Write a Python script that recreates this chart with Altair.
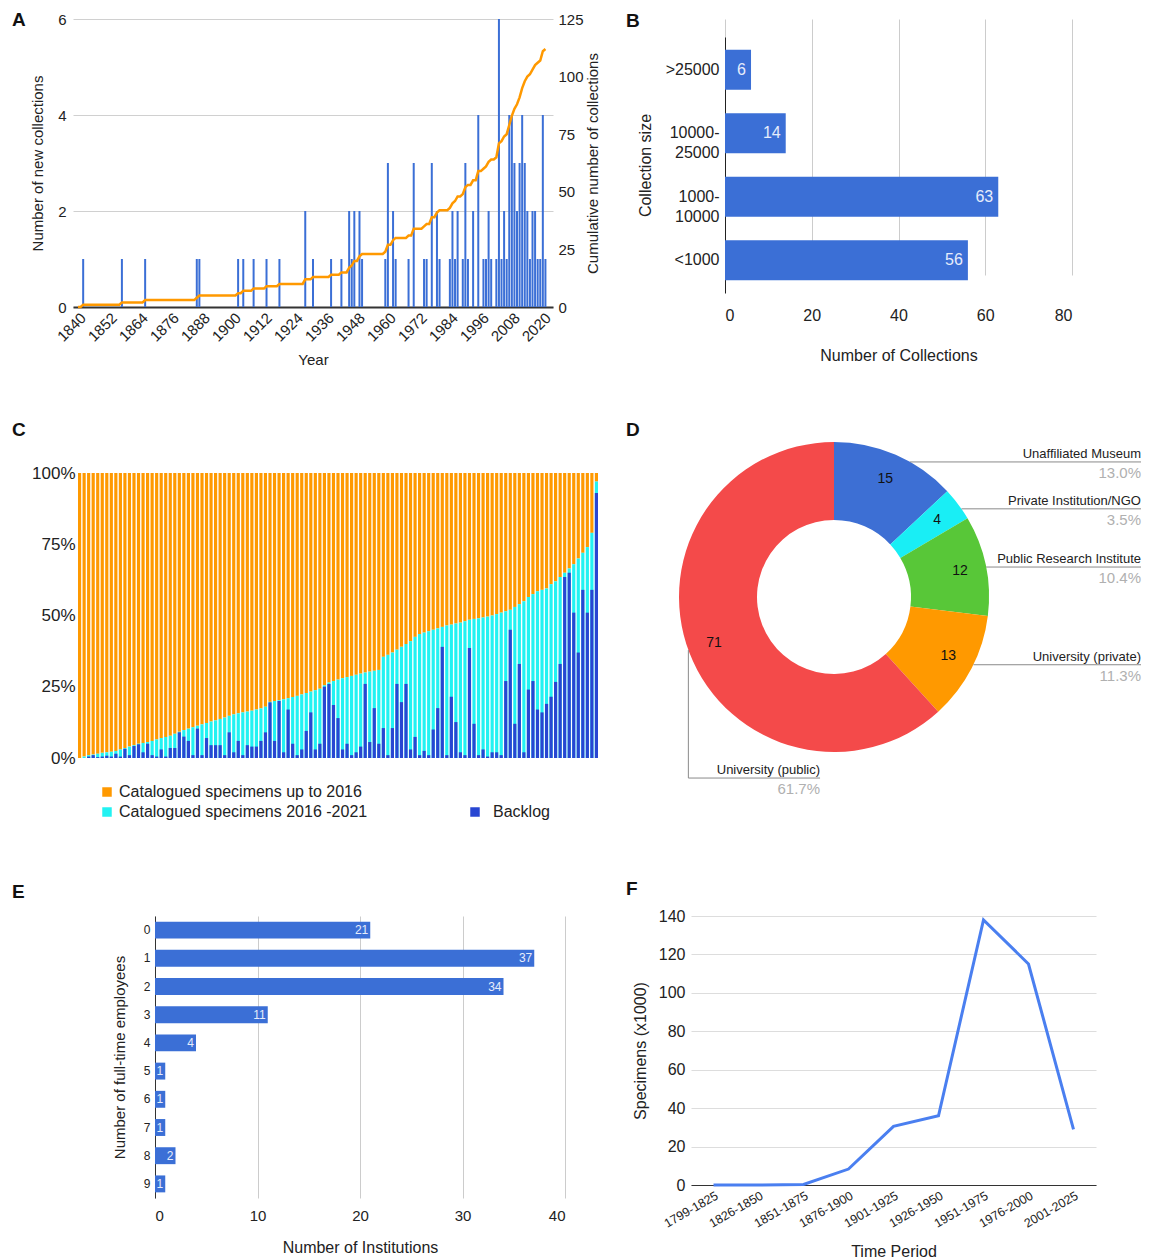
import altair as alt
import pandas as pd

FONT = "Liberation Sans"
BLUE = "#3b6fd6"
ORANGE = "#ff9900"
CYAN = "#22f2f2"
DBLUE = "#2846d2"
LINEBLUE = "#4a7ff0"

# ---------------- Panel A data ----------------
A_years = [1842, 1857, 1866, 1886, 1887, 1902, 1904, 1908, 1913, 1918, 1928, 1931, 1938,
           1942, 1945, 1946, 1947, 1949, 1950, 1959, 1960, 1962, 1963, 1968, 1970,
           1974, 1975, 1977, 1979, 1980, 1984, 1985, 1986, 1987, 1989, 1990, 1991,
           1993, 1995, 1997, 1998, 1999, 2000, 2002, 2003, 2004, 2005, 2006, 2007,
           2008, 2009, 2010, 2011, 2012, 2013, 2014, 2015, 2016, 2017, 2018, 2019, 2020, 2021]
A_counts = [1, 1, 1, 1, 1, 1, 1, 1, 1, 1, 2, 1, 1,
            1, 2, 1, 2, 2, 1, 1, 3, 2, 1, 1, 3,
            1, 1, 3, 2, 1, 1, 2, 1, 2, 1, 3, 1,
            2, 4, 1, 1, 2, 1, 1, 6, 1, 2, 1, 4,
            4, 3, 2, 3, 4, 3, 2, 1, 2, 2, 1, 1, 4, 1]
A_first, A_last = 1840, 2021
A_ticks = list(range(1840, 2021, 12))

# ---------------- Panel B data ----------------
B_sizes = [">25000", "10000-25000", "1000-10000", "<1000"]
B_counts = [6, 14, 63, 56]

# ---------------- Panel C data ----------------
C_series = ["Catalogued specimens up to 2016", "Catalogued specimens 2016 -2021", "Backlog"]
C_cum = [0, 0.5, 1, 1.2, 1.5, 1.8, 2, 2.2, 2.5, 3,
         3.5, 4, 4.5, 5, 5.3, 5.6, 6, 6.5, 7, 7.4,
         7.8, 8.5, 9.2, 9.8, 10.3, 10.8, 11.3, 11.8, 12.3, 12.8,
         13.2, 13.7, 14.2, 14.8, 15.3, 15.7, 16, 16.3, 16.6, 17,
         17.4, 18, 19.7, 20, 20.3, 20.6, 21, 21.4, 21.8, 22.3,
         22.8, 23.3, 23.8, 24.3, 25.5, 26.5, 27, 27.5, 28, 28.4,
         28.8, 29.2, 29.6, 30, 30.3, 30.6, 30.9, 35.5, 36.2, 37,
         38, 39, 40, 41, 42.5, 43.5, 44, 44.5, 45, 45.5,
         46, 46.5, 46.8, 47.2, 47.5, 48, 48.5, 48.8, 49, 49.3,
         49.6, 50, 50.5, 51, 51.5, 52, 53, 54, 55, 56.5,
         57.5, 58.5, 59, 59.5, 61, 62, 63.5, 65, 66.5, 68,
         70, 72, 74, 79, 97]
C_backlog = [0, 0, 0.5, 1, 0.3, 0.5, 0.8, 0.5, 1.5, 0.5,
             3.2, 1, 4.2, 4.8, 2, 5, 1, 0.5, 3, 0.5,
             3.5, 3.5, 9, 7.5, 6, 1, 10.3, 1, 7, 4.5,
             4.5, 4.5, 1, 9, 2, 6, 1, 4.5, 4, 4,
             6, 9, 19.5, 6, 20, 2, 17, 5, 1, 3,
             9.5, 16, 3, 5, 25, 26, 18.6, 14, 3, 5,
             1, 2, 4, 26, 5.6, 17.5, 5, 10.5, 1, 10.5,
             26, 19.6, 26, 3, 7.4, 1, 2.5, 1, 10, 17.5,
             39, 1, 21.5, 12.6, 2, 1, 38.6, 12, 1, 3,
             0.5, 2, 2, 1, 27, 45, 12, 33, 2, 24,
             27, 17, 16, 19, 21.5, 26.7, 33, 63.5, 65, 51,
             37, 59, 51, 59, 93]

# ---------------- Panel D data ----------------
D_cats = ["Unaffiliated Museum", "Private Institution/NGO", "Public Research Institute",
          "University (private)", "University (public)"]
D_vals = [15, 4, 12, 13, 71]
D_colors = ["#3d6fd4", "#19eef5", "#58c738", "#ff9900", "#f44a4a"]

# ---------------- Panel E data ----------------
E_cats = ["0", "1", "2", "3", "4", "5", "6", "7", "8", "9"]
E_vals = [21, 37, 34, 11, 4, 1, 1, 1, 2, 1]

# ---------------- Panel F data ----------------
F_periods = ["1799-1825", "1826-1850", "1851-1875", "1876-1900", "1901-1925",
             "1926-1950", "1951-1975", "1976-2000", "2001-2025"]
F_vals = [0, 0, 0.3, 8.3, 30.5, 36, 138, 115, 29]


def letter(ch, x, y):
    return alt.Chart(pd.DataFrame({"t": [ch]})).mark_text(
        fontSize=19, fontWeight="bold", align="left", baseline="middle", color="#111", font=FONT
    ).encode(text="t:N", x=alt.value(x), y=alt.value(y))


# ================= Panel A =================
cmap = dict(zip(A_years, A_counts))
years_all = list(range(A_first, A_last + 1))
dfA = pd.DataFrame({"year": years_all, "count": [cmap.get(y, 0) for y in years_all]})

xA = alt.X("year:Q", scale=alt.Scale(domain=[1840, 2022], nice=False, zero=False),
           axis=alt.Axis(values=A_ticks, format="d", labelAngle=315, title="Year", grid=False,
                         ticks=False, domainColor="#333", domainWidth=2, labelFontSize=15,
                         titleFontSize=15, labelPadding=3, titlePadding=8, labelOverlap=False))
barsA = alt.Chart(dfA).transform_filter("datum.count > 0").mark_bar(size=2, color=BLUE).encode(
    x=xA,
    y=alt.Y("count:Q", scale=alt.Scale(domain=[0, 6]),
            axis=alt.Axis(values=[0, 2, 4, 6], title="Number of new collections", gridColor="#d0d0d0",
                          domain=False, ticks=False, labelFontSize=15, titleFontSize=15,
                          labelPadding=7, titlePadding=12)))
lineA = alt.Chart(dfA).transform_window(
    cum="sum(count)", sort=[alt.SortField("year")], frame=[None, 0]
).mark_line(color=ORANGE, strokeWidth=2.5).encode(
    x=xA,
    y=alt.Y("cum:Q", scale=alt.Scale(domain=[0, 125]),
            axis=alt.Axis(orient="right", values=[0, 25, 50, 75, 100, 125],
                          title="Cumulative number of collections", grid=False, domain=False,
                          ticks=False, labelFontSize=15, titleFontSize=15, labelPadding=5,
                          titlePadding=2, titleAngle=270, titleBaseline="top")))
chartA = alt.layer(barsA, lineA, letter("A", -61, 1)).resolve_scale(y="independent").properties(
    width=480, height=288)

# ================= Panel B =================
dfB = pd.DataFrame({"size": B_sizes, "n": B_counts})
yB = alt.Y("size:N", sort=B_sizes, scale=alt.Scale(paddingInner=0.37, paddingOuter=0.2, range=[18, 274]),
           axis=alt.Axis(title="Collection size", ticks=False, domainColor="#222", labelFontSize=16,
                         titleFontSize=16, labelPadding=6, titlePadding=12, labelLineHeight=20,
                         offset=-34,
                         labelExpr="indexof(datum.label, '-') > 0 ? [slice(datum.label, 0, indexof(datum.label, '-') + 1), slice(datum.label, indexof(datum.label, '-') + 1)] : datum.label"))
xB = alt.X("n:Q", scale=alt.Scale(domain=[0, 80], range=[34, 381]),
           axis=alt.Axis(values=[0, 20, 40, 60, 80], gridColor="#cccccc", domain=False, ticks=False,
                         labelFontSize=16, title="Number of Collections", titleFontSize=16,
                         labelPadding=14, titlePadding=24))
barsB = alt.Chart(dfB).mark_bar(color=BLUE).encode(x=xB, y=yB)
textB = alt.Chart(dfB).mark_text(align="right", dx=-5, color="#e6ecfb", fontSize=16).encode(
    x="n:Q", y=alt.Y("size:N", sort=B_sizes), text="n:Q")
chartB = alt.layer(barsB, textB, letter("B", -65, 2)).properties(width=381, height=274)

# ================= Panel C =================
rows = []
for i in range(len(C_cum)):
    rows.append({"i": i, "series": C_series[0], "lo": C_cum[i], "hi": 100})
    rows.append({"i": i, "series": C_series[1], "lo": 0, "hi": C_cum[i]})
    rows.append({"i": i, "series": C_series[2], "lo": 0, "hi": C_backlog[i]})
dfC = pd.DataFrame(rows)
xC = alt.X("i:O", axis=None, scale=alt.Scale(paddingInner=0.3, paddingOuter=0, range=[5, 525]))
yC = alt.Y("lo:Q", scale=alt.Scale(domain=[0, 100]),
           axis=alt.Axis(values=[0, 25, 50, 75, 100], labelExpr="datum.value + '%'", grid=False,
                         domain=False, ticks=False, labelFontSize=17, labelPadding=3, title=None,
                         offset=-5))
layerC1 = alt.Chart(dfC).transform_filter(alt.datum.series != "Backlog").mark_bar().encode(
    x=xC, y=yC, y2="hi:Q",
    color=alt.Color("series:N", scale=alt.Scale(domain=C_series[:2], range=[ORANGE, CYAN]),
                    legend=alt.Legend(title=None, orient="none", legendX=26, legendY=311,
                                      direction="vertical", symbolType="square", symbolSize=90,
                                      labelFontSize=16, rowPadding=4, labelOffset=4, padding=0,
                                      labelLimit=400)))
layerC2 = alt.Chart(dfC).transform_filter(alt.datum.series == "Backlog").mark_bar().encode(
    x=xC, y=yC, y2="hi:Q",
    fill=alt.Fill("series:N", scale=alt.Scale(domain=C_series[2:], range=[DBLUE]),
                  legend=alt.Legend(title=None, orient="none", legendX=394, legendY=331,
                                    symbolType="square", symbolSize=90, labelFontSize=16,
                                    labelOffset=10, padding=0)))
chartC = alt.layer(layerC1, layerC2, letter("C", -61, -43)).resolve_scale(
    color="independent", fill="independent").properties(width=525, height=285)

# ================= Panel D =================
dfD = pd.DataFrame({"cat": D_cats, "v": D_vals, "ord": list(range(len(D_cats)))})
sxD = alt.Scale(domain=[-0.92258, 1.98065], nice=False, zero=False)
syD = alt.Scale(domain=[-1.4839, 0.8], nice=False, zero=False)
baseD = alt.Chart(dfD).transform_joinaggregate(total="sum(v)").transform_window(
    cumv="sum(v)", sort=[alt.SortField("ord")], frame=[None, 0]
).transform_calculate(
    mid="((datum.cumv - datum.v / 2) / datum.total) * 2 * PI",
    pct="format(datum.v / datum.total * 100, '.1f') + '%'"
).transform_calculate(
    ay="0.95 * cos(datum.mid)",
    tx="0.83 * sin(datum.mid)", ty="0.83 * cos(datum.mid)",
    ex="datum.mid > PI ? -0.09 : 1.98065"
).transform_calculate(
    ax="(sin(datum.mid) < 0 ? -1 : 1) * sqrt(1 - datum.ay * datum.ay)",
    ey="datum.mid > PI ? -1.168 : datum.ay"
)
arcD = baseD.mark_arc(radius=155, radius2=77).encode(
    theta=alt.Theta("v:Q", stack=True),
    order=alt.Order("ord:Q"),
    color=alt.Color("cat:N", scale=alt.Scale(domain=D_cats, range=D_colors), legend=None),
    x=alt.XDatum(0, type="quantitative", scale=sxD, axis=None),
    y=alt.YDatum(0, type="quantitative", scale=syD, axis=None))
numD = baseD.mark_text(fontSize=14, color="#111").encode(
    x=alt.X("tx:Q", scale=sxD, axis=None), y=alt.Y("ty:Q", scale=syD, axis=None), text="v:Q")
vruleD = baseD.mark_rule(color="#8a8a8a", strokeWidth=1).encode(
    x=alt.X("ax:Q", scale=sxD, axis=None), y=alt.Y("ay:Q", scale=syD, axis=None), y2="ey:Q")
hruleD = baseD.mark_rule(color="#8a8a8a", strokeWidth=1).encode(
    x=alt.X("ax:Q", scale=sxD, axis=None), x2="ex:Q", y=alt.Y("ey:Q", scale=syD, axis=None))
labD = baseD.mark_text(align="right", baseline="alphabetic", dy=-4, fontSize=13, color="#222").encode(
    x=alt.X("ex:Q", scale=sxD, axis=None), y=alt.Y("ey:Q", scale=syD, axis=None), text="cat:N")
pctD = baseD.mark_text(align="right", baseline="top", dy=4, fontSize=15, color="#b0b0b0").encode(
    x=alt.X("ex:Q", scale=sxD, axis=None), y=alt.Y("ey:Q", scale=syD, axis=None), text="pct:N")
chartD = alt.layer(arcD, vruleD, hruleD, numD, labD, pctD, letter("D", -65, -43)).properties(
    width=450, height=354)

# ================= Panel E =================
dfE = pd.DataFrame({"emp": E_cats, "n": E_vals})
yE = alt.Y("emp:N", sort=E_cats, scale=alt.Scale(paddingInner=0.4, paddingOuter=0.2),
           axis=alt.Axis(title="Number of full-time employees", labelFontSize=12, titleFontSize=15,
                         ticks=False, domainColor="#333", labelPadding=5, titlePadding=16, labelAngle=0,
                         offset=-82))
xE = alt.X("n:Q", scale=alt.Scale(domain=[0, 40], range=[82, 492]),
           axis=alt.Axis(values=[0, 10, 20, 30, 40], gridColor="#cccccc", domain=False, ticks=False,
                         labelFontSize=15, title="Number of Institutions", titleFontSize=16,
                         labelPadding=10, titlePadding=16))
barsE = alt.Chart(dfE).mark_bar(color=BLUE).encode(x=xE, y=yE)
textE = alt.Chart(dfE).mark_text(align="right", dx=-2, color="#e6ecfb", fontSize=12).encode(
    x="n:Q", y=alt.Y("emp:N", sort=E_cats), text="n:Q")
chartE = alt.layer(barsE, textE, letter("E", -61, -24)).properties(width=492, height=282)

# ================= Panel F =================
dfF = pd.DataFrame({"period": F_periods, "val": F_vals})
xF = alt.X("period:N", sort=F_periods, scale=alt.Scale(type="point", padding=0.5),
           axis=alt.Axis(labelAngle=330, labelFontSize=12.5, title="Time Period", titleFontSize=16,
                         ticks=False, domainColor="#333", labelPadding=4, grid=False, titlePadding=14))
yF = alt.Y("val:Q", scale=alt.Scale(domain=[0, 140]),
           axis=alt.Axis(values=list(range(0, 141, 20)), gridColor="#dddddd", domain=False, ticks=False,
                         labelFontSize=16, title="Specimens (x1000)", titleFontSize=16,
                         labelPadding=6, titlePadding=10))
lineF = alt.Chart(dfF).mark_line(color=LINEBLUE, strokeWidth=3).encode(x=xF, y=yF)
chartF = alt.layer(lineF, letter("F", -65, -27)).properties(width=405, height=269)

# ================= Layout =================
chart = alt.concat(
    chartA, chartB, chartC, chartD, chartE, chartF,
    columns=2, align="each", spacing=alt.RowColnumber(row=53, column=25)
).resolve_scale(color="independent", fill="independent").properties(
    padding={"left": 4, "top": 3, "right": 0, "bottom": 0}
).configure(font=FONT).configure_view(stroke=None).configure_axis(
    labelColor="#222", titleColor="#222", titleFontWeight="normal", labelFont=FONT, titleFont=FONT,
    labelOverlap=False
).configure_legend(labelFont=FONT, labelColor="#222")

chart.save("out.html", embed_options={"renderer": "svg", "actions": False})
